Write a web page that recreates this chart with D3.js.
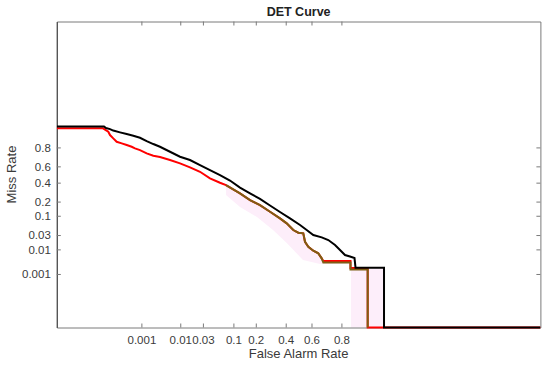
<!DOCTYPE html>
<html>
<head>
<meta charset="utf-8">
<script src="https://cdn.jsdelivr.net/npm/d3@7"></script>
<style>
  body { margin: 0; background: #fff; }
  text { font-family: "Liberation Sans", Arial, Helvetica, sans-serif; }
</style>
</head>
<body>
<div id="chart"></div>
<script>
// Values are normal deviates (probit) as plotted on the DET axes
const tickProbs = [0.001, 0.01, 0.03, 0.1, 0.2, 0.4, 0.6, 0.8];
const tickLabels = ["0.001", "0.01", "0.03", "0.1", "0.2", "0.4", "0.6", "0.8"];

const blackFa = [-4.75, -3.825, -3.786, -3.707, -3.643, -3.511, -3.379, -3.249, -3.118, -2.986, -2.856, -2.725, -2.528, -2.331, -2.135, -1.938, -1.742, -1.545, -1.349, -1.152, -0.955, -0.759, -0.562, -0.366, -0.169, 0.028, 0.159, 0.289, 0.454, 0.584, 0.716, 0.814, 0.912, 1.010, 1.099, 1.119, 1.679, 1.679, 4.75];
const blackMiss = [1.489, 1.489, 1.443, 1.411, 1.365, 1.309, 1.256, 1.203, 1.141, 1.039, 0.946, 0.862, 0.707, 0.551, 0.449, 0.293, 0.138, -0.017, -0.188, -0.405, -0.585, -0.756, -0.964, -1.166, -1.362, -1.570, -1.725, -1.880, -1.952, -2.036, -2.191, -2.346, -2.502, -2.548, -2.595, -2.896, -2.896, -4.75, -4.75];

const redFa = [-4.75, -3.845, -3.806, -3.741, -3.707, -3.643, -3.576, -3.477, -3.379, -3.281, -3.216, -3.118, -2.986, -2.856, -2.725, -2.528, -2.331, -2.135, -1.938, -1.742, -1.545, -1.427, -1.152, -0.955, -0.759, -0.562, -0.366, -0.234, -0.104, -0.006, 0.092, 0.126, 0.191, 0.289, 0.387, 0.454, 0.486, 1.020, 1.020, 1.358, 1.358, 4.75];
const redMiss = [1.433, 1.433, 1.396, 1.328, 1.225, 1.123, 1.017, 0.967, 0.915, 0.862, 0.812, 0.759, 0.657, 0.582, 0.542, 0.449, 0.346, 0.222, 0.085, -0.120, -0.256, -0.328, -0.585, -0.793, -0.949, -1.157, -1.362, -1.517, -1.725, -1.809, -1.828, -2.089, -2.244, -2.368, -2.449, -2.604, -2.688, -2.688, -2.905, -2.905, -4.75, -4.75];

const oliveFa = [-1.427, -1.152, -0.955, -0.759, -0.562, -0.366, -0.234, -0.104, -0.006, 0.092, 0.126, 0.191, 0.289, 0.387, 0.454, 0.486, 1.020, 1.020, 1.358, 1.358];
const oliveMiss = [-0.328, -0.585, -0.793, -0.949, -1.157, -1.362, -1.517, -1.725, -1.809, -1.828, -2.089, -2.244, -2.368, -2.449, -2.604, -2.734, -2.734, -2.952, -2.952, -4.75];

// light pink band around the lower curve (outline, upper edge then lower edge)
const bandFa = [-1.427, -1.152, -0.955, -0.759, -0.562, -0.366, -0.110, 0.086, 0.126, 0.283, 0.440, 0.480, 1.030, 1.030, 1.679, 1.679, 1.030, 1.030, 0.421, 0.086, -0.228, -0.503, -0.818, -1.152, -1.427];
const bandMiss = [-0.359, -0.607, -0.809, -0.964, -1.166, -1.368, -1.741, -1.849, -2.098, -2.378, -2.610, -2.703, -2.703, -2.921, -2.921, -4.75, -4.75, -2.781, -2.781, -2.657, -2.132, -1.725, -1.321, -1.011, -0.638];

const width = 550, height = 367;
const margin = { top: 21.5, right: 9.6, bottom: 39.5, left: 56.8 };
const lim = 4.753;

// inverse normal CDF (Acklam), used for tick positions
function norminv(p) {
    const a = [-39.6968302866538, 220.946098424521, -275.928510446969, 138.357751867269, -30.6647980661472, 2.50662827745924];
    const b = [-54.4760987982241, 161.585836858041, -155.698979859887, 66.8013118877197, -13.2806815528857];
    const c = [-0.00778489400243029, -0.322396458041136, -2.40075827716184, -2.54973253934373, 4.37466414146497, 2.93816398269878];
    const d = [0.00778469570904146, 0.32246712907004, 2.445134137143, 3.75440866190742];
    const pl = 0.02425;
    let q, r;
    if (p < pl) {
        q = Math.sqrt(-2 * Math.log(p));
        return (((((c[0]*q+c[1])*q+c[2])*q+c[3])*q+c[4])*q+c[5]) / ((((d[0]*q+d[1])*q+d[2])*q+d[3])*q+1);
    } else if (p <= 1 - pl) {
        q = p - 0.5; r = q * q;
        return (((((a[0]*r+a[1])*r+a[2])*r+a[3])*r+a[4])*r+a[5])*q / (((((b[0]*r+b[1])*r+b[2])*r+b[3])*r+b[4])*r+1);
    }
    q = Math.sqrt(-2 * Math.log(1 - p));
    return -(((((c[0]*q+c[1])*q+c[2])*q+c[3])*q+c[4])*q+c[5]) / ((((d[0]*q+d[1])*q+d[2])*q+d[3])*q+1);
}

const svg = d3.select("#chart")
    .append("svg")
    .attr("width", width)
    .attr("height", height);

const x = d3.scaleLinear()
    .domain([-lim, lim])
    .range([margin.left, width - margin.right]);
const y = d3.scaleLinear()
    .domain([-lim, lim])
    .range([height - margin.bottom, margin.top]);

const tickPos = tickProbs.map(norminv);
const axisColor = "#7a7a7a";
const textColor = "#3a3a3a";
const tickLen = 4;

// band
const band = d3.zip(bandFa, bandMiss);
svg.append("path")
    .attr("d", d3.line().x(d => x(d[0])).y(d => y(d[1]))(band) + "Z")
    .attr("fill", "#fdeefa")
    .attr("stroke", "none");

// axes: bottom, top, left, right with inward ticks
const xAxisB = d3.axisBottom(x).tickValues(tickPos).tickSizeInner(-tickLen).tickSizeOuter(0)
    .tickFormat((d, i) => tickLabels[i]).tickPadding(8);
const xAxisT = d3.axisTop(x).tickValues(tickPos).tickSizeInner(-tickLen).tickSizeOuter(0).tickFormat("");
const yAxisL = d3.axisLeft(y).tickValues(tickPos).tickSizeInner(-tickLen).tickSizeOuter(0)
    .tickFormat((d, i) => tickLabels[i]).tickPadding(6);
const yAxisR = d3.axisRight(y).tickValues(tickPos).tickSizeInner(-tickLen).tickSizeOuter(0).tickFormat("");

const gB = svg.append("g").attr("transform", `translate(0,${y(-lim)})`).call(xAxisB);
const gT = svg.append("g").attr("transform", `translate(0,${y(lim)})`).call(xAxisT);
const gL = svg.append("g").attr("transform", `translate(${x(-lim)},0)`).call(yAxisL);
const gR = svg.append("g").attr("transform", `translate(${x(lim)},0)`).call(yAxisR);

[gB, gT, gL, gR].forEach(g => {
    g.select(".domain").attr("stroke", axisColor).attr("stroke-width", 1);
    g.selectAll(".tick line").attr("stroke", axisColor);
    g.selectAll("text")
        .attr("fill", textColor)
        .attr("font-size", 11.5)
        .attr("font-family", "'Liberation Sans', Arial, sans-serif");
});
gL.select(".domain").attr("stroke", "#555").attr("stroke-width", 1.4);

// curves
const line = d3.line().x(d => x(d[0])).y(d => y(d[1]));

svg.append("path")
    .attr("d", line(d3.zip(redFa, redMiss)))
    .attr("fill", "none")
    .attr("stroke", "#ff0000")
    .attr("stroke-width", 2);

svg.append("path")
    .attr("d", line(d3.zip(oliveFa, oliveMiss)))
    .attr("fill", "none")
    .attr("stroke", "#7d5f14")
    .attr("stroke-width", 2);

svg.append("path")
    .attr("d", line(d3.zip(blackFa, blackMiss)))
    .attr("fill", "none")
    .attr("stroke", "#000")
    .attr("stroke-width", 2);

// title and axis labels
svg.append("text")
    .attr("x", x(0))
    .attr("y", 16)
    .attr("text-anchor", "middle")
    .attr("font-size", 12.5)
    .attr("font-weight", "bold")
    .attr("fill", "#222")
    .text("DET Curve");

svg.append("text")
    .attr("x", x(0))
    .attr("y", 358)
    .attr("text-anchor", "middle")
    .attr("font-size", 13)
    .attr("fill", textColor)
    .text("False Alarm Rate");

svg.append("text")
    .attr("transform", `translate(16,${y(0)}) rotate(-90)`)
    .attr("text-anchor", "middle")
    .attr("font-size", 13)
    .attr("fill", textColor)
    .text("Miss Rate");
</script>
</body>
</html>
